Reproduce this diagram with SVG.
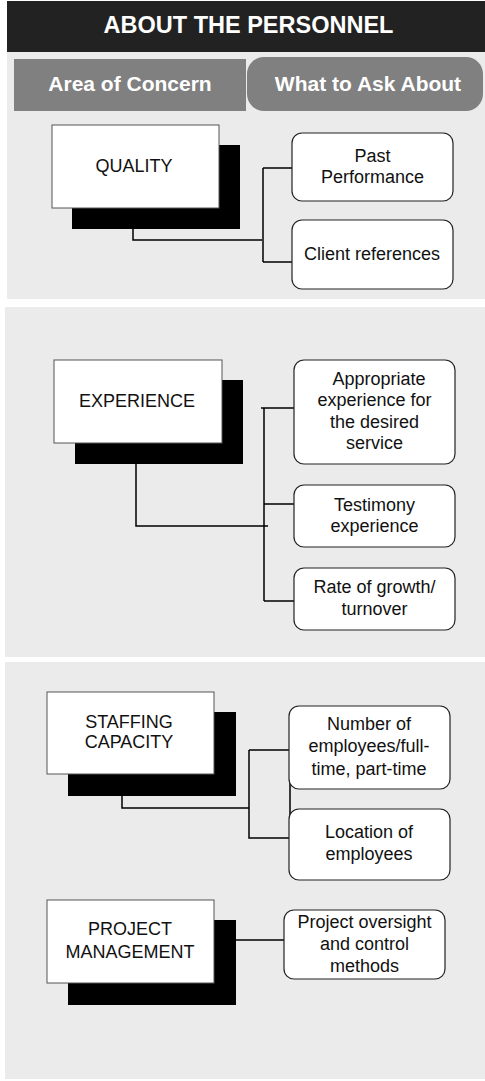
<svg xmlns="http://www.w3.org/2000/svg" width="485" height="1081" viewBox="0 0 485 1081">
<style>
.panel{fill:#ebebeb}
.shadow{fill:#000}
.box{fill:#fff;stroke:#555;stroke-width:1}
.rbox{fill:#fff;stroke:#222;stroke-width:1.2}
.t{font-family:"Liberation Sans",Arial,sans-serif;font-size:18px;fill:#111;text-anchor:middle}
.hd{font-family:"Liberation Sans",Arial,sans-serif;font-weight:bold;fill:#fff;text-anchor:middle}
.conn{fill:none;stroke:#000;stroke-width:1.5}
</style>
<rect width="485" height="1081" fill="#fff"/>
<g id="header">
<rect x="7" y="1" width="478" height="51" fill="#222"/>
<text class="hd" x="248.5" y="33" font-size="23.5">ABOUT THE PERSONNEL</text>
</g>
<rect class="panel" x="7" y="52" width="478" height="247"/>
<rect class="panel" x="5" y="307" width="480" height="350"/>
<rect class="panel" x="5" y="662" width="480" height="417"/>
<g id="col-area">
<rect x="14" y="59" width="232" height="52" fill="#808080"/>
<text class="hd" x="130" y="91" font-size="21">Area of Concern</text>
</g>
<g id="col-ask">
<rect x="247" y="57" width="236" height="54" rx="17" fill="#808080"/>
<text class="hd" x="368" y="91" font-size="21">What to Ask About</text>
</g>
<g id="connectors">
<path class="conn" d="M133 208V240H262M263 168V262M263 168H292M263 262H292"/>
<path class="conn" d="M136 464V526H268M264 408V601M261 408H294M264 504H294M264 601H294"/>
<path class="conn" d="M122 796V808H249M249 750V838H290M249 750H290V838"/>
<path class="conn" d="M236 940H287"/>
</g>
<g id="quality">
<rect class="shadow" x="72" y="145" width="168" height="84"/>
<rect class="box" x="52" y="125" width="167" height="83"/>
<text class="t" x="134" y="172">QUALITY</text>
</g>
<g id="past-performance">
<rect class="rbox" x="292" y="133" width="161" height="68" rx="10"/>
<text class="t" x="372.5" y="162">Past</text>
<text class="t" x="372.5" y="183">Performance</text>
</g>
<g id="client-references">
<rect class="rbox" x="292" y="220" width="161" height="69" rx="10"/>
<text class="t" x="372" y="260">Client references</text>
</g>
<g id="experience">
<rect class="shadow" x="75" y="380" width="168" height="84"/>
<rect class="box" x="54" y="360" width="168" height="83"/>
<text class="t" x="137" y="407">EXPERIENCE</text>
</g>
<g id="appropriate-experience">
<rect class="rbox" x="294" y="360" width="161" height="104" rx="10"/>
<text class="t" x="379" y="385">Appropriate</text>
<text class="t" x="374.5" y="406">experience for</text>
<text class="t" x="374.5" y="428">the desired</text>
<text class="t" x="374.5" y="449">service</text>
</g>
<g id="testimony-experience">
<rect class="rbox" x="294" y="485" width="161" height="62" rx="10"/>
<text class="t" x="374.5" y="511">Testimony</text>
<text class="t" x="374.5" y="532">experience</text>
</g>
<g id="rate-of-growth">
<rect class="rbox" x="294" y="568" width="161" height="62" rx="10"/>
<text class="t" x="374.5" y="593">Rate of growth/</text>
<text class="t" x="374.5" y="615">turnover</text>
</g>
<g id="staffing-capacity">
<rect class="shadow" x="68" y="712" width="168" height="84"/>
<rect class="box" x="47" y="692" width="167" height="82"/>
<text class="t" x="129" y="728">STAFFING</text>
<text class="t" x="129" y="748">CAPACITY</text>
</g>
<g id="number-of-employees">
<rect class="rbox" x="289" y="706" width="161" height="83" rx="10"/>
<text class="t" x="369" y="730">Number of</text>
<text class="t" x="369" y="752">employees/full-</text>
<text class="t" x="369" y="775">time, part-time</text>
</g>
<g id="location-of-employees">
<rect class="rbox" x="289" y="809" width="161" height="71" rx="10"/>
<text class="t" x="369" y="838">Location of</text>
<text class="t" x="369" y="860">employees</text>
</g>
<g id="project-management">
<rect class="shadow" x="68" y="920" width="168" height="85"/>
<rect class="box" x="47" y="900" width="167" height="83"/>
<text class="t" x="130" y="935">PROJECT</text>
<text class="t" x="130" y="958">MANAGEMENT</text>
</g>
<g id="project-oversight">
<rect class="rbox" x="284" y="910" width="161" height="69" rx="10"/>
<text class="t" x="364.5" y="928">Project oversight</text>
<text class="t" x="364.5" y="950">and control</text>
<text class="t" x="364.5" y="972">methods</text>
</g>
</svg>
